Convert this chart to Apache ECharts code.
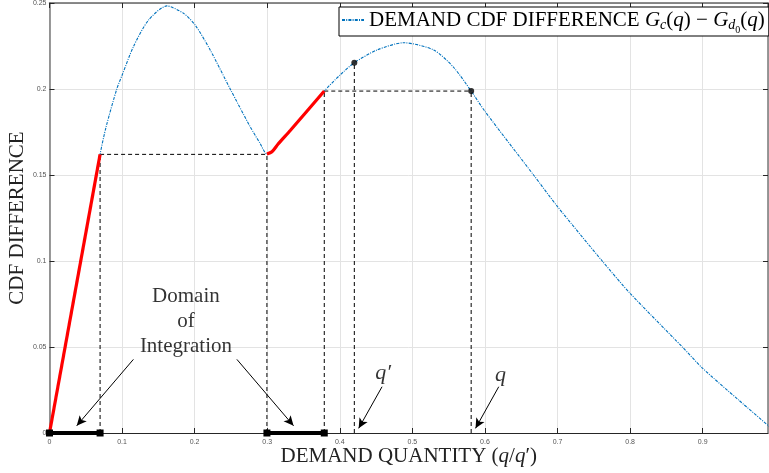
<!DOCTYPE html>
<html><head><meta charset="utf-8">
<script src="https://cdn.jsdelivr.net/npm/echarts@6/dist/echarts.min.js"></script>
<style>html,body{margin:0;padding:0;background:#fff}#c{width:769px;height:473px}</style>
</head><body><div id="c"></div>
<script>
// ---- data ----
const curveX = [0, 0.0697, 0.078, 0.0927, 0.1, 0.1156, 0.1363, 0.1617, 0.1846, 0.2007, 0.2214, 0.249, 0.2766, 0.29, 0.2996, 0.3065, 0.315, 0.332, 0.3786, 0.40, 0.42, 0.4513, 0.488, 0.5294, 0.557, 0.581, 0.6, 0.667, 0.7, 0.7616, 0.8, 0.872, 0.9, 0.95, 0.992];
const curveY = [0, 0.162, 0.178, 0.200, 0.208, 0.2246, 0.240, 0.2483, 0.244, 0.2372, 0.2227, 0.2, 0.178, 0.1685, 0.1622, 0.1635, 0.168, 0.176, 0.1988, 0.208, 0.2153, 0.2227, 0.2269, 0.2227, 0.2125, 0.1988, 0.187, 0.15, 0.1316, 0.1, 0.0812, 0.05, 0.0376, 0.019, 0.0037];
const integrationRanges = [[0, 0.0697], [0.2996, 0.3786]];
const dropX = [0.0697, 0.2996, 0.3786, 0.42, 0.581];
const dropY = [0.162, 0.162, 0.1988, 0.2153, 0.1988];
const levelFromX = [0.0697, 0.3786];
const levelToX = [0.2996, 0.581];
const levelY = [0.162, 0.1988];
const dotX = [0.42, 0.581];
const dotY = [0.2153, 0.1988];
const arrowFrom = [[0.1156, 0.0428], [0.2582, 0.0428], [0.4582, 0.0269], [0.619, 0.0269]];
const arrowTo = [[0.0375, 0.0042], [0.3363, 0.0042], [0.426, 0.0027], [0.587, 0.0027]];
const noteText = ['Domain\nof\nIntegration', "q′", 'q'];
const noteX = [0.188, 0.4596, 0.6214];
const noteY = [0.0647, 0.0347, 0.0337];
const xMin = 0, xMax = 0.99, xStep = 0.1;
const yMin = 0, yMax = 0.25, yStep = 0.05;
const seriesName = 'DEMAND CDF DIFFERENCE';

// ---- chart ----
const serif = '"Liberation Serif", "DejaVu Serif", serif';
const chart = echarts.init(document.getElementById('c'));
const curve = curveX.map((x, i) => [x, curveY[i]]);
const series = [];

// dashed guide lines
dropX.forEach((x, i) => {
  series.push({type: 'line', data: [[x, 0], [x, dropY[i]]], symbol: 'none', silent: true, z: 2,
    lineStyle: {color: '#000', width: 1, type: [4, 3]}});
});
levelY.forEach((y, i) => {
  series.push({type: 'line', data: [[levelFromX[i], y], [levelToX[i], y]], symbol: 'none', silent: true, z: 2,
    lineStyle: {color: '#000', width: 1, type: [4, 3]}});
});

// main curve
series.push({name: seriesName, type: 'line', data: curve, symbol: 'none', smooth: 0.25, z: 3,
  lineStyle: {color: '#0072BD', width: 1.1, type: [3, 1.2, 1, 1.2]}, itemStyle: {color: '#0072BD'}});

// red integration parts
integrationRanges.forEach(r => {
  series.push({type: 'line', data: curve.filter(p => p[0] >= r[0] - 1e-9 && p[0] <= r[1] + 1e-9),
    symbol: 'none', smooth: 0.25, clip: false, z: 4, lineStyle: {color: '#ff0000', width: 3.2}});
  series.push({type: 'line', data: [[r[0], 0], [r[1], 0]], symbol: 'rect', symbolSize: 7, showSymbol: true,
    clip: false, z: 5, lineStyle: {color: '#000', width: 4}, itemStyle: {color: '#000'}});
});

// dots
series.push({type: 'scatter', data: dotX.map((x, i) => [x, dotY[i]]), symbolSize: 6, z: 5, itemStyle: {color: '#000'}});

// arrows
arrowFrom.forEach((a, i) => {
  series.push({type: 'line', data: [], markLine: {silent: true, symbol: ['none', 'arrow'], symbolSize: [7, 10],
    lineStyle: {color: '#000', width: 1, type: 'solid'}, label: {show: false},
    data: [[{coord: a}, {coord: arrowTo[i]}]]}});
});

// notes
noteText.forEach((t, i) => {
  const italic = i > 0;
  series.push({type: 'scatter', data: [[noteX[i], noteY[i]]], symbolSize: 0, z: 6,
    label: {show: true, position: 'inside', formatter: t, color: '#000', fontFamily: serif,
      fontSize: italic ? 22 : 21, fontStyle: italic ? 'italic' : 'normal', lineHeight: 25, align: 'center', verticalAlign: 'middle'}});
});

const tickLabel = {fontSize: 7, color: '#555', fontFamily: 'Liberation Sans, Arial, sans-serif'};
chart.setOption({
  animation: false,
  backgroundColor: '#fff',
  grid: {left: 49.5, right: 1, top: 3, bottom: 40, containLabel: false, outerBoundsMode: 'none'},
  legend: {
    data: [seriesName], left: 339, top: 7, padding: [1, 4, 1, 2], itemWidth: 22, itemHeight: 10, itemGap: 4,
    itemStyle: {opacity: 0},
    backgroundColor: '#fff', borderColor: '#000', borderWidth: 1, borderRadius: 0,
    formatter: () => 'DEMAND CDF DIFFERENCE {i|G}{s|c}{n|(}{i|q}{n|) − }{i|G}{s|d}{ss|0}{n|(}{i|q}{n|)}',
    textStyle: {fontFamily: serif, fontSize: 21, color: '#000', lineHeight: 24,
      rich: {
        i: {fontFamily: serif, fontSize: 21, fontStyle: 'italic', lineHeight: 24, verticalAlign: 'middle'},
        n: {fontFamily: serif, fontSize: 21, lineHeight: 24, verticalAlign: 'middle'},
        s: {fontFamily: serif, fontSize: 14, fontStyle: 'italic', lineHeight: 24, verticalAlign: 'bottom'},
        ss: {fontFamily: serif, fontSize: 10, lineHeight: 24, verticalAlign: 'bottom', padding: [0, 0, -3, 0]}
      }}
  },
  xAxis: [{
    type: 'value', min: xMin, max: xMax, interval: xStep,
    name: 'DEMAND QUANTITY ({i|q}/{i|q}′)', nameLocation: 'middle', nameGap: 13, nameMoveOverlap: false,
    nameTextStyle: {fontFamily: serif, fontSize: 21, color: '#222', rich: {i: {fontFamily: serif, fontSize: 21, fontStyle: 'italic', color: '#222'}}},
    axisLine: {show: true, onZero: false, lineStyle: {color: '#262626', width: 1.2}},
    axisTick: {show: true, inside: true, length: 5, lineStyle: {color: '#262626'}},
    axisLabel: {show: true, margin: 6, showMaxLabel: false, ...tickLabel,
      formatter: v => (v > 0.95 ? '' : String(Math.round(v * 10) / 10))},
    splitLine: {show: true, lineStyle: {color: '#e3e3e3', width: 1}}
  }, {
    type: 'value', position: 'top', min: xMin, max: xMax, interval: xStep,
    axisLine: {show: true, onZero: false, lineStyle: {color: '#666', width: 1.5}},
    axisTick: {show: true, inside: true, length: 5, lineStyle: {color: '#262626'}},
    axisLabel: {show: false}, splitLine: {show: false}
  }],
  yAxis: [{
    type: 'value', min: yMin, max: yMax, interval: yStep,
    name: 'CDF DIFFERENCE', nameLocation: 'middle', nameGap: 22, nameRotate: 90, nameMoveOverlap: false,
    nameTextStyle: {fontFamily: serif, fontSize: 21, color: '#222'},
    axisLine: {show: true, onZero: false, lineStyle: {color: '#777', width: 1.5}},
    axisTick: {show: true, inside: true, length: 5, lineStyle: {color: '#262626'}},
    axisLabel: {show: true, margin: 3, ...tickLabel, formatter: v => String(Math.round(v * 100) / 100)},
    splitLine: {show: true, lineStyle: {color: '#e3e3e3', width: 1}}
  }, {
    type: 'value', position: 'right', min: yMin, max: yMax, interval: yStep,
    axisLine: {show: true, onZero: false, lineStyle: {color: '#777', width: 1.5}},
    axisTick: {show: true, inside: true, length: 5, lineStyle: {color: '#262626'}},
    axisLabel: {show: false}, splitLine: {show: false}
  }],
  series: series
});
</script></body></html>
